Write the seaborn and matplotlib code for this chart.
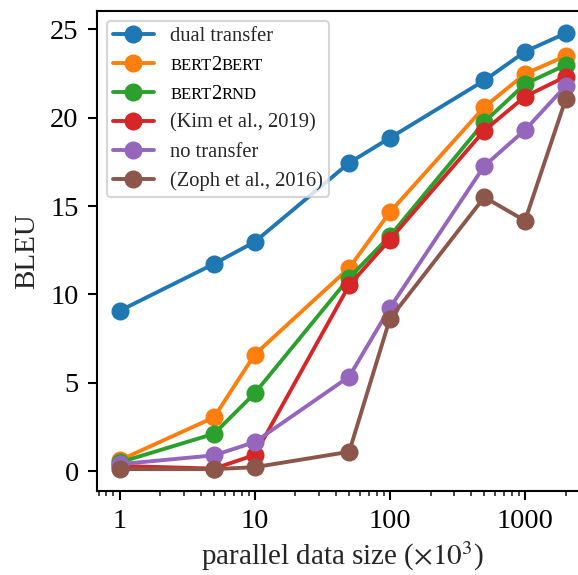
import numpy as np
import matplotlib
matplotlib.use('Agg')
import matplotlib.pyplot as plt
import matplotlib.ticker as mticker
import seaborn as sns

# Data (x in thousands of sentence pairs)
sizes = [1, 5, 10, 50, 100, 500, 1000, 2000]
methods = ['dual transfer', 'BERT2BERT', 'BERT2RND', '(Kim et al., 2019)',
           'no transfer', '(Zoph et al., 2016)']
dual_transfer = [9.07, 11.73, 12.97, 17.44, 18.85, 22.1, 23.73, 24.77]
bert2bert = [0.62, 3.05, 6.6, 11.5, 14.65, 20.6, 22.47, 23.49]
bert2rnd = [0.5, 2.12, 4.41, 10.94, 13.3, 19.75, 21.9, 22.98]
kim_2019 = [0.3, 0.15, 0.92, 10.52, 13.1, 19.27, 21.19, 22.32]
no_transfer = [0.4, 0.9, 1.65, 5.35, 9.24, 17.27, 19.3, 21.79]
zoph_2016 = [0.12, 0.12, 0.23, 1.1, 8.62, 15.5, 14.17, 21.04]
series = [dual_transfer, bert2bert, bert2rnd, kim_2019, no_transfer, zoph_2016]

sns.set_style('ticks')
plt.rcParams['font.family'] = ['Liberation Serif', 'DejaVu Serif']
plt.rcParams['mathtext.fontset'] = 'stix'

colors = sns.color_palette('tab10', 6)
FS = 20.5
LAB_FS = 21
LEG_FS = 14.8
SC_FS = 12  # size of the small caps letters

fig = plt.figure(figsize=(5.78, 5.75), dpi=100)
ax = fig.add_axes([0.1673, 0.1466, 0.850, 0.8343])

for name, vals, c in zip(methods, series, colors):
    sns.lineplot(x=sizes, y=vals, ax=ax, label=name, color=c, marker='o',
                 markersize=13, markeredgewidth=0, linewidth=2.8)

ax.set_xscale('log')
ax.set_xlim(10 ** -0.169, 10 ** 3.466)
ax.set_ylim(-1.1, 26.03)
ax.set_xticks([1, 10, 100, 1000])
ax.xaxis.set_major_formatter(mticker.FixedFormatter(['1', '10', '100', '1000']))
ax.xaxis.set_minor_locator(mticker.LogLocator(base=10, subs=np.arange(2, 10)))
ax.xaxis.set_minor_formatter(mticker.NullFormatter())
ax.set_yticks([0, 5, 10, 15, 20, 25])

for s in ax.spines.values():
    s.set_linewidth(1.5)
    s.set_color('black')
ax.tick_params(axis='both', which='major', length=6.5, width=1.5, pad=6.5,
               labelsize=FS, colors='black')
ax.tick_params(axis='x', which='minor', length=3.7, width=1.2)

ax.set_xlabel(r'parallel data size ($\times10^3$)', fontsize=LAB_FS, labelpad=4)
ax.set_ylabel('BLEU', fontsize=LAB_FS, labelpad=7.5)

leg = ax.legend(loc='upper left', fontsize=LEG_FS, labelspacing=0.46,
                handlelength=2.0, borderpad=0.28, framealpha=0.8,
                edgecolor='#cccccc', fancybox=True)
leg.get_frame().set_linewidth(1.5)

# small caps for the BERT labels: hide the legend text, redraw it piecewise
fig.canvas.draw()
renderer = fig.canvas.get_renderer()
W, H = fig.bbox.width, fig.bbox.height
for t in leg.get_texts():
    label = t.get_text()
    if not label.startswith('BERT'):
        continue
    t.set_alpha(0)
    x0, y0 = t.get_transform().transform(t.get_position())
    a, b = label.split('2')
    x = x0
    for piece, size in [(a, SC_FS), ('2', LEG_FS), (b, SC_FS)]:
        txt = fig.text(x / W, y0 / H, piece, fontsize=size, ha='left',
                       va='baseline', color='black', zorder=10)
        x += txt.get_window_extent(renderer).width

fig.savefig('out.png', dpi=100)
